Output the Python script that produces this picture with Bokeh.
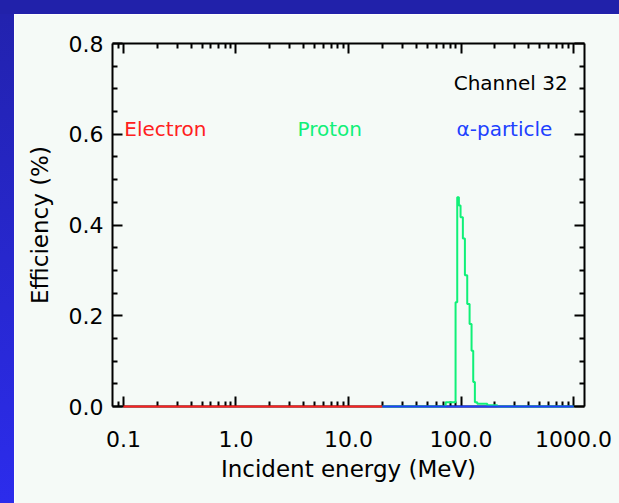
from bokeh.plotting import figure
from bokeh.models import FixedTicker, LogAxis, LinearAxis, Range1d, Spacer
from bokeh.layouts import column, row
from bokeh.core.properties import value
from bokeh.embed import file_html
from bokeh.resources import INLINE

# ---- data ----
x_ticks = [0.1, 1.0, 10.0, 100.0, 1000.0]
x_tick_labels = ["0.1", "1.0", "10.0", "100.0", "1000.0"]
x_minor = [0.09, 0.2, 0.3, 0.4, 0.5, 0.6, 0.7, 0.8, 0.9,
           2, 3, 4, 5, 6, 7, 8, 9,
           20, 30, 40, 50, 60, 70, 80, 90,
           200, 300, 400, 500, 600, 700, 800, 900]
y_ticks = [0.0, 0.2, 0.4, 0.6, 0.8]
y_tick_labels = ["0.0", "0.2", "0.4", "0.6", "0.8"]
y_minor = [0.05, 0.1, 0.15, 0.25, 0.3, 0.35, 0.45, 0.5, 0.55, 0.65, 0.7, 0.75]

electron_energy = [0.1, 20.0]
electron_eff = [0.0, 0.0]
alpha_energy = [20.0, 1000.0]
alpha_eff = [0.0, 0.0]
proton_energy = [20.0, 73.0, 89.4, 92.5, 95.7, 99.0, 103.8, 108.2, 113.5, 119.1,
                 124.0, 128.3, 132.7, 139.3, 171.0, 210.0, 1000.0]
proton_eff = [0.0, 0.0095, 0.23, 0.461, 0.443, 0.417, 0.37, 0.289, 0.226, 0.182,
              0.123, 0.054, 0.0095, 0.006, 0.003, 0.0, 0.0]

# ---- styles ----
FONT = "DejaVu Sans"
BG = "#f5faf7"
RED = "#ff2020"
GREEN = "#10f078"
BLUE = "#2040ff"

p = figure(width=605, height=489, x_axis_type="log",
           x_range=Range1d(0.08, 1250), y_range=Range1d(0, 0.8),
           output_backend="svg", toolbar_location=None,
           min_border_left=98, min_border_right=35,
           min_border_top=29, min_border_bottom=97,
           background_fill_color=BG, border_fill_color=BG,
           outline_line_color=None)
p.xgrid.visible = False
p.ygrid.visible = False


def style_axis(ax, show_labels):
    ax.axis_line_color = "black"
    ax.axis_line_width = 2
    ax.major_tick_line_color = "black"
    ax.major_tick_line_width = 2
    ax.minor_tick_line_color = "black"
    ax.minor_tick_line_width = 2
    ax.major_tick_in = 10
    ax.major_tick_out = 0
    ax.minor_tick_in = 5
    ax.minor_tick_out = 0
    ax.major_label_text_font = FONT
    if show_labels:
        ax.major_label_text_color = "black"
        ax.major_label_text_font_size = "22px"
    else:
        ax.major_label_text_color = None
        ax.major_label_text_font_size = "2px"
    ax.axis_label_text_font = FONT
    ax.axis_label_text_font_size = "23px"
    ax.axis_label_text_font_style = "normal"
    ax.axis_label_text_color = "black"


xt = FixedTicker(ticks=x_ticks, minor_ticks=x_minor)
yt = FixedTicker(ticks=y_ticks, minor_ticks=y_minor)

xa = p.xaxis[0]
xa.ticker = xt
xa.major_label_overrides = dict(zip(x_ticks, x_tick_labels))
xa.axis_label = "Incident energy (MeV)"
style_axis(xa, True)
xa.major_label_standoff = 24
xa.axis_label_standoff = 6

ya = p.yaxis[0]
ya.ticker = yt
ya.major_label_overrides = dict(zip(y_ticks, y_tick_labels))
ya.axis_label = "Efficiency (%)"
style_axis(ya, True)
ya.major_label_standoff = 9
ya.axis_label_standoff = 13

top = LogAxis(ticker=FixedTicker(ticks=x_ticks, minor_ticks=x_minor))
style_axis(top, False)
top.major_label_standoff = 0
p.add_layout(top, "above")

right = LinearAxis(ticker=FixedTicker(ticks=y_ticks, minor_ticks=y_minor))
style_axis(right, False)
right.major_label_standoff = 0
p.add_layout(right, "right")

g = p.step(proton_energy, proton_eff, mode="after", line_color=GREEN, line_width=2)
r = p.line(electron_energy, electron_eff, line_color=RED, line_width=2)
b = p.line(alpha_energy, alpha_eff, line_color=BLUE, line_width=2)
for rr in (g, r, b):
    rr.level = "overlay"

common = dict(text_font=value(FONT), text_font_size="20px", text_baseline="alphabetic")
p.text(x=[0.102], y=[0.611], text=["Electron"], text_color=RED, text_align="left", **common)
p.text(x=[3.52], y=[0.611], text=["Proton"], text_color=GREEN, text_align="left", **common)
p.text(x=[91.2], y=[0.611], text=["\u03b1-particle"], text_color=BLUE, text_align="left", **common)
p.text(x=[885.0], y=[0.713], text=["Channel 32"], text_color="black", text_align="right", **common)

top_band = Spacer(width=619, height=14, styles={"background": "#2121aa"})
left_band = Spacer(width=14, height=489,
                   styles={"background": "linear-gradient(to bottom, #2222ae, #2c2cec)"})
layout = column(top_band, row(left_band, p, spacing=0), spacing=0)

open("out.html", "w").write(file_html(layout, INLINE))
